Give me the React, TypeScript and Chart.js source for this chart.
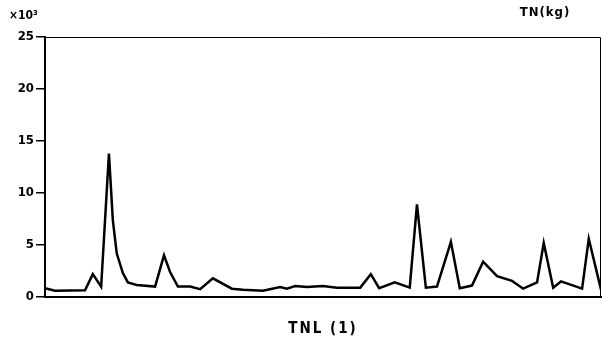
import React, { useEffect, useRef } from "react";
import { Chart, registerables } from "chart.js";

Chart.register(...registerables);

// position along the TNL axis (0..100) and TN load (×10³ kg)
const positions = [0, 1.8, 7.2, 8.6, 10.1, 11.5, 12.2, 12.9, 14.0, 14.9, 16.5, 19.8, 21.4, 22.5, 23.9, 26.1, 27.9, 30.2, 33.6, 35.6, 39.2, 42.3, 43.5, 45.0, 47.1, 50.0, 52.5, 56.7, 58.6, 60.1, 62.9, 65.6, 66.9, 68.5, 70.5, 73.0, 74.6, 76.8, 78.8, 81.3, 84.0, 86.0, 88.5, 89.7, 91.4, 92.8, 96.6, 97.8, 100];
const tnValues = [0.85, 0.6, 0.65, 2.2, 1.0, 13.8, 7.4, 4.2, 2.3, 1.4, 1.15, 1.0, 4.0, 2.4, 1.0, 1.0, 0.75, 1.8, 0.8, 0.7, 0.6, 0.95, 0.8, 1.05, 0.95, 1.05, 0.9, 0.9, 2.2, 0.85, 1.4, 0.9, 8.9, 0.9, 1.0, 5.3, 0.85, 1.1, 3.4, 2.0, 1.55, 0.8, 1.4, 5.2, 0.9, 1.5, 0.8, 5.6, 0.7];
const yTicks = [0, 5, 10, 15, 20, 25];
const xTitle = "TNL (1)";
const yUnit = "TN(kg)";
const yScaleLabel = "×10³";

const FONT = "'DejaVu Sans Condensed', 'DejaVu Sans', sans-serif";

const framePlugin = {
  id: "frame",
  afterDraw(chart: any) {
    const { ctx, chartArea } = chart;
    ctx.save();
    ctx.strokeStyle = "#000";
    ctx.lineWidth = 1;
    ctx.beginPath();
    ctx.moveTo(chartArea.left, chartArea.top + 0.5);
    ctx.lineTo(chartArea.right - 0.5, chartArea.top + 0.5);
    ctx.lineTo(chartArea.right - 0.5, chartArea.bottom);
    ctx.stroke();
    ctx.fillStyle = "#000";
    ctx.textBaseline = "middle";
    ctx.textAlign = "center";
    (ctx as any).letterSpacing = "2px";
    ctx.font = `bold 15px ${FONT}`;
    ctx.fillText(xTitle, (chartArea.left + chartArea.right) / 2, chartArea.bottom + 32);
    (ctx as any).letterSpacing = "1px";
    ctx.font = `bold 13px ${FONT}`;
    ctx.fillText(yUnit, chartArea.right - 56, chartArea.top - 24);
    (ctx as any).letterSpacing = "0px";
    ctx.textAlign = "left";
    ctx.font = `bold 12px ${FONT}`;
    ctx.fillText(yScaleLabel, 9, chartArea.top - 21);
    ctx.restore();
  },
};

export default function App() {
  const ref = useRef<HTMLCanvasElement>(null);
  useEffect(() => {
    if (!ref.current) return;
    const chart = new Chart(ref.current, {
      type: "line",
      data: {
        datasets: [
          {
            data: positions.map((x, i) => ({ x, y: tnValues[i] })),
            borderColor: "#000",
            borderWidth: 2.5,
            pointRadius: 0,
            tension: 0,
            fill: false,
          },
        ],
      },
      options: {
        animation: false,
        responsive: false,
        maintainAspectRatio: false,
        layout: { padding: { top: 37, right: 1, bottom: 50, left: 0 } },
        plugins: { legend: { display: false }, tooltip: { enabled: false }, title: { display: false } },
        scales: {
          x: {
            type: "linear",
            min: 0,
            max: 100,
            ticks: { display: false },
            grid: { display: false, drawTicks: false },
            border: { display: true, color: "#000", width: 2 },
            afterFit: (s: any) => { s.height = 0; },
          },
          y: {
            min: 0,
            max: 25,
            afterBuildTicks: (s: any) => { s.ticks = yTicks.map((v) => ({ value: v })); },
            ticks: { color: "#000", padding: 2, font: { family: FONT, size: 13, weight: "bold" } },
            grid: { drawOnChartArea: false, drawTicks: true, tickLength: 9, color: "#000", lineWidth: 1.5 },
            border: { display: true, color: "#000", width: 2 },
            afterFit: (s: any) => { s.width = 45; },
          },
        },
      },
      plugins: [framePlugin],
    });
    return () => chart.destroy();
  }, []);
  return (
    <div style={{ position: "absolute", left: 0, top: 0, width: 602, height: 347, background: "#fff" }}>
      <canvas ref={ref} width={602} height={347} style={{ width: 602, height: 347 }} />
    </div>
  );
}
